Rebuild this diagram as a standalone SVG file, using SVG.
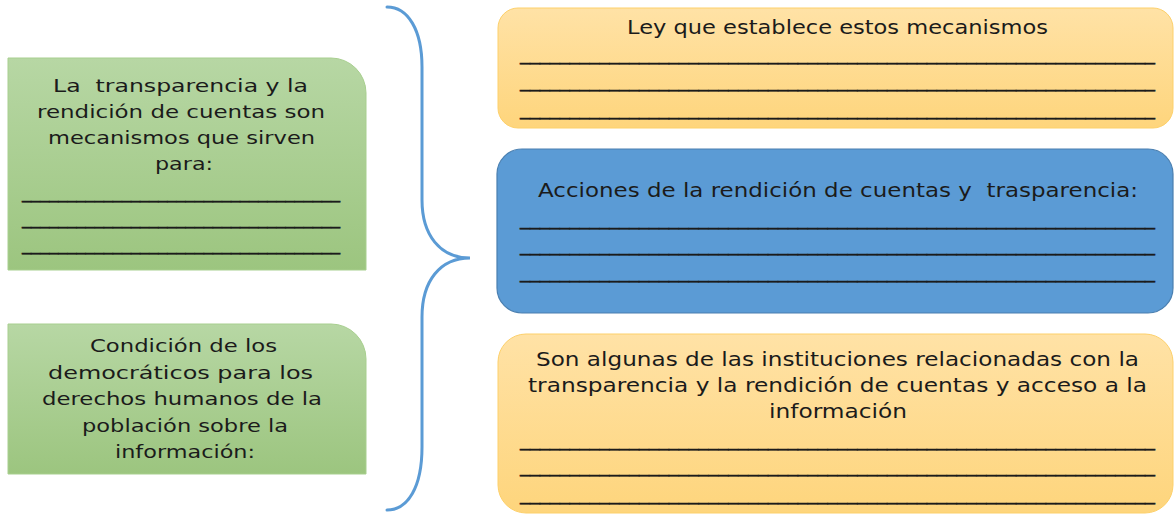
<svg xmlns="http://www.w3.org/2000/svg" width="1174" height="514" viewBox="0 0 1174 514">
  <defs>
    <linearGradient id="gGreen" x1="0" y1="0" x2="0" y2="1">
      <stop offset="0" stop-color="#b7d7a4"/>
      <stop offset="1" stop-color="#9cc57f"/>
    </linearGradient>
    <linearGradient id="gYellow" x1="0" y1="0" x2="0" y2="1">
      <stop offset="0" stop-color="#ffe2a6"/>
      <stop offset="1" stop-color="#fed57c"/>
    </linearGradient>
  </defs>
  <style>
    .t { font-family: "DejaVu Sans", "Liberation Sans", sans-serif; fill: #1b1b1b; }
    .l { font-size: 18px; }
    .r { font-size: 20px; }
    .u { stroke: #1b1b1b; stroke-width: 0.45; }
    .green { fill: url(#gGreen); stroke: #a8cf8f; stroke-width: 1; }
    .yellow { fill: url(#gYellow); stroke: #fdd06a; stroke-width: 1; }
    .blue { fill: #5b9bd5; stroke: #4a7fb0; stroke-width: 1.2; }
    .brace { fill: none; stroke: #5b9bd5; stroke-width: 3; stroke-linecap: round; }
  </style>

  <g id="node-transparencia">
    <path class="green" d="M8,58 H331 A35,35 0 0 1 366,93 V270 H8 Z"/>
    <text class="t l" x="53" y="92" textLength="255" lengthAdjust="spacingAndGlyphs" xml:space="preserve">La  transparencia y la</text>
    <text class="t l" x="37" y="118" textLength="288" lengthAdjust="spacingAndGlyphs">rendición de cuentas son</text>
    <text class="t l" x="48" y="144" textLength="267" lengthAdjust="spacingAndGlyphs">mecanismos que sirven</text>
    <text class="t l" x="155" y="170" textLength="58" lengthAdjust="spacingAndGlyphs">para:</text>
    <text class="t l u" x="22" y="197.5" textLength="318" lengthAdjust="spacingAndGlyphs">___________________________________</text>
    <text class="t l u" x="22" y="223.5" textLength="318" lengthAdjust="spacingAndGlyphs">___________________________________</text>
    <text class="t l u" x="22" y="249.5" textLength="318" lengthAdjust="spacingAndGlyphs">___________________________________</text>
  </g>

  <g id="node-condicion">
    <path class="green" d="M8,324 H331 A35,35 0 0 1 366,359 V474 H8 Z"/>
    <text class="t l" x="90" y="352" textLength="187" lengthAdjust="spacingAndGlyphs">Condición de los</text>
    <text class="t l" x="48" y="378.5" textLength="265" lengthAdjust="spacingAndGlyphs">democráticos para los</text>
    <text class="t l" x="42" y="405" textLength="280" lengthAdjust="spacingAndGlyphs">derechos humanos de la</text>
    <text class="t l" x="82" y="431.5" textLength="206" lengthAdjust="spacingAndGlyphs">población sobre la</text>
    <text class="t l" x="115" y="458" textLength="140" lengthAdjust="spacingAndGlyphs">información:</text>
  </g>

  <g id="connectors">
    <path class="brace" d="M387,7 C408,7 422,30 422,67 L422,200 C422,235 440,258 470,258 C440,258 422,281 422,317 L422,447 C422,487 408,510 387,510"/>
  </g>

  <g id="node-ley">
    <rect class="yellow" x="498" y="8" width="675" height="120" rx="20" ry="20"/>
    <text class="t r" x="627" y="34" textLength="421" lengthAdjust="spacingAndGlyphs">Ley que establece estos mecanismos</text>
    <text class="t r u" x="520" y="60" textLength="635" lengthAdjust="spacingAndGlyphs">________________________________________________________________</text>
    <text class="t r u" x="520" y="87" textLength="635" lengthAdjust="spacingAndGlyphs">________________________________________________________________</text>
    <text class="t r u" x="520" y="115" textLength="635" lengthAdjust="spacingAndGlyphs">________________________________________________________________</text>
  </g>

  <g id="node-acciones">
    <rect class="blue" x="497" y="149" width="676" height="164" rx="25" ry="25"/>
    <text class="t r" x="538" y="197" textLength="600" lengthAdjust="spacingAndGlyphs" xml:space="preserve">Acciones de la rendición de cuentas y  trasparencia:</text>
    <text class="t r u" x="520" y="225" textLength="635" lengthAdjust="spacingAndGlyphs">________________________________________________________________</text>
    <text class="t r u" x="520" y="251" textLength="635" lengthAdjust="spacingAndGlyphs">________________________________________________________________</text>
    <text class="t r u" x="520" y="278" textLength="635" lengthAdjust="spacingAndGlyphs">________________________________________________________________</text>
  </g>

  <g id="node-instituciones">
    <rect class="yellow" x="498" y="334" width="675" height="179" rx="28" ry="28"/>
    <text class="t r" x="536" y="366" textLength="603" lengthAdjust="spacingAndGlyphs">Son algunas de las instituciones relacionadas con la</text>
    <text class="t r" x="528" y="392" textLength="619" lengthAdjust="spacingAndGlyphs">transparencia y la rendición de cuentas y acceso a la</text>
    <text class="t r" x="769" y="418" textLength="138" lengthAdjust="spacingAndGlyphs">información</text>
    <text class="t r u" x="520" y="446" textLength="635" lengthAdjust="spacingAndGlyphs">________________________________________________________________</text>
    <text class="t r u" x="520" y="472" textLength="635" lengthAdjust="spacingAndGlyphs">________________________________________________________________</text>
    <text class="t r u" x="520" y="500" textLength="635" lengthAdjust="spacingAndGlyphs">________________________________________________________________</text>
  </g>
</svg>
